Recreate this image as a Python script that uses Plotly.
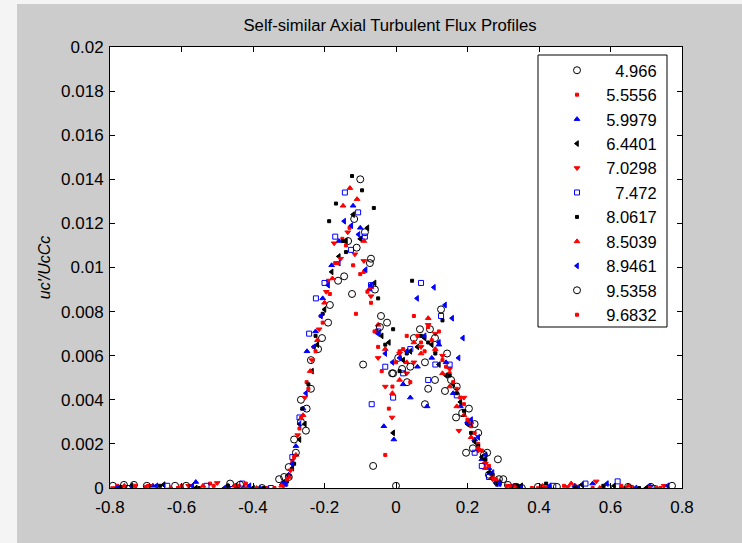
import plotly.graph_objects as go

# ---------------- data ----------------
series_labels = ["4.966", "5.5556", "5.9979", "6.4401", "7.0298", "7.472",
                 "8.0617", "8.5039", "8.9461", "9.5358", "9.6832"]

x_4966 = [-0.792, -0.733, -0.618, -0.464, -0.375, -0.327, -0.300, -0.285, -0.266, -0.252,
          -0.238, -0.207, -0.185, -0.162, -0.134, -0.117, -0.100, -0.087, -0.073, -0.059,
          -0.042, -0.025, -0.011, 0.006, 0.031, 0.050, 0.067, 0.081, 0.095, 0.109,
          0.126, 0.143, 0.168, 0.196, 0.215, 0.230, 0.255, 0.288, 0.313, 0.352,
          0.450, 0.593, 0.713]
y_4966 = [0.0001, 0.00014, 0.0001, 0.0002, 0.0, 0.0004, 0.00095, 0.0022, 0.0040, 0.0026,
          0.0058, 0.0068, 0.0083, 0.0094, 0.0112, 0.0122, 0.0140, 0.0116, 0.0102, 0.0090,
          0.0078, 0.0075, 0.0052, 0.0059, 0.0048, 0.0068, 0.0072, 0.0038, 0.0072, 0.0049,
          0.0081, 0.0061, 0.0032, 0.0016, 0.0018, 0.0025, 0.0016, 0.0004, 0.00014, 0.0,
          0.00005, 0.0, 0.00005]

x_55556 = [-0.78, -0.70, -0.60, -0.52, -0.44, -0.36, -0.31, -0.29, -0.27, -0.25,
           -0.23, -0.21, -0.19, -0.17, -0.15, -0.13, -0.112, -0.09, -0.07, -0.05,
           -0.03, -0.01, 0.01, 0.03, 0.05, 0.07, 0.09, 0.11, 0.13, 0.15,
           0.17, 0.19, 0.21, 0.23, 0.25, 0.27, 0.29, 0.34, 0.42, 0.50,
           0.58, 0.66, 0.74]
y_55556 = [0.0001, 0.00005, 0.0001, 0.0002, 0.0001, 0.0, 0.0003, 0.0012, 0.0027, 0.0048,
           0.0064, 0.0078, 0.0094, 0.0102, 0.0113, 0.0118, 0.0079, 0.0098, 0.0084, 0.0064,
           0.0015, 0.0046, 0.0062, 0.0069, 0.0078, 0.0066, 0.0073, 0.0062, 0.0058, 0.0052,
           0.0045, 0.0038, 0.0028, 0.0020, 0.0012, 0.0006, 0.0003, 0.0001, 0.0, 0.0001,
           0.0, 0.00005, 0.0]

x_59979 = [-0.77, -0.68, -0.56, -0.47, -0.38, -0.318, -0.30, -0.28, -0.26, -0.249,
           -0.225, -0.205, -0.18, -0.16, -0.12, -0.10, -0.075, -0.055, -0.034, -0.006,
           0.02, 0.04, 0.06, 0.087, 0.10, 0.12, 0.14, 0.16, 0.18, 0.20,
           0.22, 0.24, 0.26, 0.28, 0.33, 0.41, 0.50, 0.55, 0.63, 0.71]
y_59979 = [0.0, 0.0001, 0.00027, 0.0001, 0.0, 0.0002, 0.0006, 0.0019, 0.0036, 0.0062,
           0.0071, 0.0086, 0.0101, 0.0112, 0.0128, 0.0118, 0.0090, 0.0071, 0.0028, 0.0022,
           0.0047, 0.0041, 0.0055, 0.0037, 0.0059, 0.0065, 0.0057, 0.0043, 0.0037, 0.0030,
           0.0022, 0.0013, 0.0009, 0.0003, 0.0001, 0.00005, 0.0001, 0.0002, 0.0, 0.0001]

x_64401 = [-0.74, -0.65, -0.56, -0.45, -0.40, -0.31, -0.29, -0.27, -0.255, -0.235,
           -0.22, -0.20, -0.18, -0.16, -0.14, -0.12, -0.10, -0.08, -0.06, -0.04,
           -0.02, -0.008, 0.02, 0.04, 0.06, 0.08, 0.10, 0.12, 0.14, 0.16,
           0.18, 0.20, 0.22, 0.24, 0.26, 0.28, 0.35, 0.43, 0.52, 0.61, 0.70]
y_64401 = [0.0001, 0.00015, 0.0, 0.0001, 0.0, 0.0003, 0.0009, 0.0022, 0.0029, 0.0053,
           0.0065, 0.0081, 0.0098, 0.0105, 0.0112, 0.0124, 0.0113, 0.0118, 0.0093, 0.0069,
           0.0066, 0.0025, 0.0058, 0.0062, 0.0064, 0.0068, 0.0065, 0.0056, 0.0051, 0.0047,
           0.0039, 0.0029, 0.0021, 0.0014, 0.0007, 0.0002, 0.0001, 0.0, 0.00015, 0.0001, 0.0]

x_70298 = [-0.79, -0.69, -0.58, -0.50, -0.42, -0.315, -0.295, -0.275, -0.255, -0.235,
           -0.215, -0.195, -0.173, -0.155, -0.135, -0.115, -0.09, -0.07, -0.05, -0.03,
           -0.011, 0.01, 0.03, 0.05, 0.07, 0.09, 0.11, 0.13, 0.15, 0.176,
           0.19, 0.21, 0.23, 0.25, 0.27, 0.32, 0.40, 0.48, 0.56, 0.64, 0.75]
y_70298 = [0.0, 0.0001, 0.0001, 0.00023, 0.0, 0.0001, 0.0008, 0.0024, 0.0041, 0.0058,
           0.0072, 0.0089, 0.0111, 0.0104, 0.0116, 0.0106, 0.0103, 0.0087, 0.0059, 0.0046,
           0.0032, 0.0061, 0.0052, 0.0057, 0.0064, 0.0074, 0.0070, 0.0060, 0.0054, 0.0026,
           0.0041, 0.0029, 0.0017, 0.0011, 0.0004, 0.0001, 0.0, 0.00005, 0.0003, 0.0, 0.0001]

x_7472 = [-0.75, -0.64, -0.53, -0.43, -0.35, -0.31, -0.29, -0.27, -0.243, -0.224,
          -0.20, -0.17, -0.143, -0.126, -0.106, -0.087, -0.07, -0.068, -0.05, -0.03,
          -0.008, 0.02, 0.04, 0.07, 0.09, 0.11, 0.126, 0.15, 0.17, 0.204,
          0.22, 0.24, 0.26, 0.285, 0.33, 0.44, 0.53, 0.62, 0.72]
y_7472 = [0.0, 0.0001, 0.0001, 0.0002, 0.0, 0.0002, 0.0014, 0.0032, 0.0070, 0.0086,
          0.0093, 0.0114, 0.0134, 0.0108, 0.0125, 0.0114, 0.0092, 0.0038, 0.0071, 0.0055,
          0.0041, 0.0052, 0.0063, 0.0093, 0.0049, 0.0056, 0.0078, 0.0056, 0.0042, 0.0030,
          0.0016, 0.0010, 0.0005, 0.0002, 0.00005, 0.0001, 0.0002, 0.0003, 0.0]

x_80617 = [-0.77, -0.66, -0.55, -0.47, -0.37, -0.305, -0.285, -0.262, -0.245, -0.225,
           -0.205, -0.187, -0.168, -0.148, -0.14, -0.123, -0.095, -0.062, -0.05, -0.03,
           -0.008, 0.01, 0.03, 0.045, 0.07, 0.09, 0.11, 0.13, 0.15, 0.17,
           0.19, 0.21, 0.23, 0.25, 0.27, 0.29, 0.34, 0.42, 0.50, 0.58, 0.68]
y_80617 = [0.00005, 0.0001, 0.0, 0.0001, 0.0, 0.0003, 0.0011, 0.0036, 0.0047, 0.0069,
           0.0079, 0.0121, 0.0129, 0.0112, 0.0107, 0.01415, 0.0135, 0.0127, 0.0086, 0.0065,
           0.0072, 0.0053, 0.0061, 0.0094, 0.0069, 0.0066, 0.0061, 0.0076, 0.0051, 0.0043,
           0.0035, 0.0025, 0.0019, 0.0013, 0.0006, 0.0002, 0.0001, 0.0002, 0.0, 0.0001, 0.0]

x_85039 = [-0.76, -0.63, -0.54, -0.45, -0.39, -0.32, -0.30, -0.28, -0.26, -0.24,
           -0.22, -0.20, -0.178, -0.148, -0.129, -0.109, -0.09, -0.07, -0.05, -0.03,
           -0.01, 0.01, 0.03, 0.05, 0.07, 0.09, 0.11, 0.13, 0.15, 0.17,
           0.19, 0.21, 0.23, 0.25, 0.27, 0.33, 0.41, 0.49, 0.57, 0.65, 0.73]
y_85039 = [0.0001, 0.0, 0.0001, 0.0001, 0.0, 0.0001, 0.0005, 0.0015, 0.0033, 0.0053,
           0.0067, 0.0084, 0.0095, 0.0128, 0.0136, 0.0131, 0.0112, 0.0091, 0.0074, 0.0063,
           0.0043, 0.0049, 0.0057, 0.0066, 0.0061, 0.0077, 0.0063, 0.0052, 0.0046, 0.0037,
           0.0033, 0.0023, 0.0018, 0.0009, 0.0005, 0.0001, 0.0001, 0.0002, 0.0, 0.0001, 0.0]

x_89461 = [-0.78, -0.67, -0.57, -0.48, -0.41, -0.31, -0.29, -0.27, -0.252, -0.23,
           -0.21, -0.19, -0.16, -0.145, -0.125, -0.105, -0.085, -0.07, -0.05, -0.03,
           -0.01, 0.01, 0.03, 0.059, 0.08, 0.106, 0.12, 0.137, 0.157, 0.175,
           0.187, 0.21, 0.23, 0.25, 0.27, 0.29, 0.35, 0.43, 0.51, 0.59, 0.67, 0.76]
y_89461 = [0.0, 0.0001, 0.0001, 0.0, 0.0001, 0.0002, 0.0011, 0.0029, 0.0043, 0.0064,
           0.0078, 0.0092, 0.0102, 0.0121, 0.0119, 0.0115, 0.0099, 0.0092, 0.0070, 0.0061,
           0.0057, 0.0059, 0.0062, 0.0086, 0.0069, 0.0091, 0.0066, 0.0083, 0.0077, 0.0059,
           0.0068, 0.0031, 0.0023, 0.0015, 0.0007, 0.0002, 0.0, 0.0001, 0.0, 0.0002, 0.0, 0.0001]

x_95358 = [-0.761, -0.697, -0.587, -0.436, -0.313, -0.30, -0.28, -0.266, -0.25, -0.238,
           -0.218, -0.19, -0.145, -0.123, -0.11, -0.092, -0.07, -0.064, -0.045, -0.008,
           0.0, 0.017, 0.04, 0.081, 0.09, 0.109, 0.137, 0.154, 0.17, 0.185,
           0.204, 0.22, 0.246, 0.26, 0.285, 0.30, 0.336, 0.397, 0.515, 0.649, 0.772]
y_95358 = [0.00014, 0.0001, 0.0001, 0.00015, 0.0005, 0.0005, 0.0016, 0.0030, 0.0036, 0.0045,
           0.0063, 0.0075, 0.0096, 0.0088, 0.0109, 0.0056, 0.0104, 0.0010, 0.0073, 0.0052,
           0.0001, 0.0054, 0.0055, 0.0057, 0.0045, 0.0068, 0.0044, 0.0049, 0.0046, 0.0034,
           0.0036, 0.0029, 0.0015, 0.0006, 0.0013, 0.0004, 0.00005, 0.00005, 0.0, 0.00005, 0.0001]

x_96832 = [-0.73, -0.61, -0.51, -0.42, -0.34, -0.305, -0.285, -0.265, -0.245, -0.225,
           -0.205, -0.185, -0.162, -0.14, -0.12, -0.10, -0.08, -0.06, -0.04, -0.02,
           0.0, 0.02, 0.04, 0.06, 0.08, 0.10, 0.12, 0.14, 0.16, 0.18,
           0.20, 0.22, 0.24, 0.26, 0.28, 0.31, 0.38, 0.47, 0.55, 0.63, 0.71]
y_96832 = [0.0001, 0.0, 0.0001, 0.0002, 0.0, 0.0004, 0.0014, 0.0032, 0.0045, 0.0062,
           0.0075, 0.0088, 0.0102, 0.0110, 0.0101, 0.0097, 0.0089, 0.0071, 0.0053, 0.0036,
           0.0057, 0.0063, 0.0048, 0.0069, 0.0062, 0.0067, 0.0071, 0.0055, 0.0048, 0.0041,
           0.0031, 0.0025, 0.0017, 0.0010, 0.0004, 0.0001, 0.0, 0.0001, 0.0, 0.0001, 0.0]

x_ticks = [-0.8, -0.6, -0.4, -0.2, 0, 0.2, 0.4, 0.6, 0.8]
x_tick_text = ["-0.8", "-0.6", "-0.4", "-0.2", "0", "0.2", "0.4", "0.6", "0.8"]
y_ticks = [0, 0.002, 0.004, 0.006, 0.008, 0.01, 0.012, 0.014, 0.016, 0.018, 0.02]
y_tick_text = ["0", "0.002", "0.004", "0.006", "0.008", "0.01", "0.012",
               "0.014", "0.016", "0.018", "0.02"]

# ---------------- styles ----------------
xs = [x_4966, x_55556, x_59979, x_64401, x_70298, x_7472,
      x_80617, x_85039, x_89461, x_95358, x_96832]
ys = [y_4966, y_55556, y_59979, y_64401, y_70298, y_7472,
      y_80617, y_85039, y_89461, y_95358, y_96832]
colors = ["black", "red", "blue", "black", "red", "blue",
          "black", "red", "blue", "black", "red"]
symbols = ["circle-open", "square", "triangle-up", "triangle-left", "triangle-down",
           "square-open", "square", "triangle-up", "triangle-left", "circle-open", "square"]
sizes = [7, 3, 5, 5, 5, 5, 3, 5, 5, 7, 3]

FONT = "Liberation Sans, Arial, Helvetica, sans-serif"

fig = go.Figure()
for lab, x, y, c, s, sz in zip(series_labels, xs, ys, colors, symbols, sizes):
    # figure spaces (digit width) right-align the legend numbers
    name = "\u2007" * (7 - len(lab)) + lab
    fig.add_trace(go.Scatter(
        x=x, y=y, mode="markers", name=name, legendgroup=lab,
        marker=dict(symbol=s, size=sz, color=c, line=dict(color=c, width=1)),
    ))

W, H = 742, 543
L, R, T, B = 110, 682, 47, 488
pw, ph = R - L, B - T


def px(xp):
    return (xp - L) / pw


def py(yp):
    return (B - yp) / ph


shapes = [
    # light strips at the left and top edges of the picture
    dict(type="rect", xref="paper", yref="paper", x0=px(0), x1=px(17), y0=py(H), y1=py(0),
         fillcolor="#f4f4f4", line=dict(width=0), layer="below"),
    dict(type="rect", xref="paper", yref="paper", x0=px(0), x1=px(W), y0=py(4), y1=py(0),
         fillcolor="#f4f4f4", line=dict(width=0), layer="below"),
    # legend box
    dict(type="rect", xref="paper", yref="paper", x0=px(538), x1=px(667), y0=py(327), y1=py(55),
         fillcolor="white", line=dict(color="black", width=1), layer="above"),
]

axis_common = dict(showgrid=False, zeroline=False, showline=True, linecolor="black",
                   linewidth=1, mirror="allticks", ticks="inside", ticklen=5,
                   tickcolor="black", tickwidth=1,
                   tickfont=dict(family=FONT, size=17, color="black"))

fig.update_layout(
    width=W, height=H,
    margin=dict(l=L, r=W - R, t=T, b=H - B, pad=0),
    paper_bgcolor="#cccccc", plot_bgcolor="white",
    font=dict(family=FONT, color="black"),
    title=dict(text="Self-similar Axial Turbulent Flux Profiles", x=390 / W, xanchor="center",
               y=1 - 25 / H, yanchor="middle", font=dict(family=FONT, size=16.7, color="black")),
    xaxis=dict(range=[-0.8, 0.8], tickvals=x_ticks, ticktext=x_tick_text,
               ticklabelstandoff=4, **axis_common),
    yaxis=dict(range=[0, 0.02], tickvals=y_ticks, ticktext=y_tick_text, ticklabelstandoff=2,
               title=dict(text="<i>uc'/UcCc</i>", font=dict(family=FONT, size=16, color="black"),
                          standoff=6),
               **axis_common),
    legend=dict(x=px(557), y=py(53), xanchor="left", yanchor="top",
                bgcolor="rgba(0,0,0,0)", borderwidth=0, tracegroupgap=0,
                font=dict(family=FONT, size=16.5, color="black")),
    shapes=shapes,
    showlegend=True,
)

fig.write_html("out.html")
